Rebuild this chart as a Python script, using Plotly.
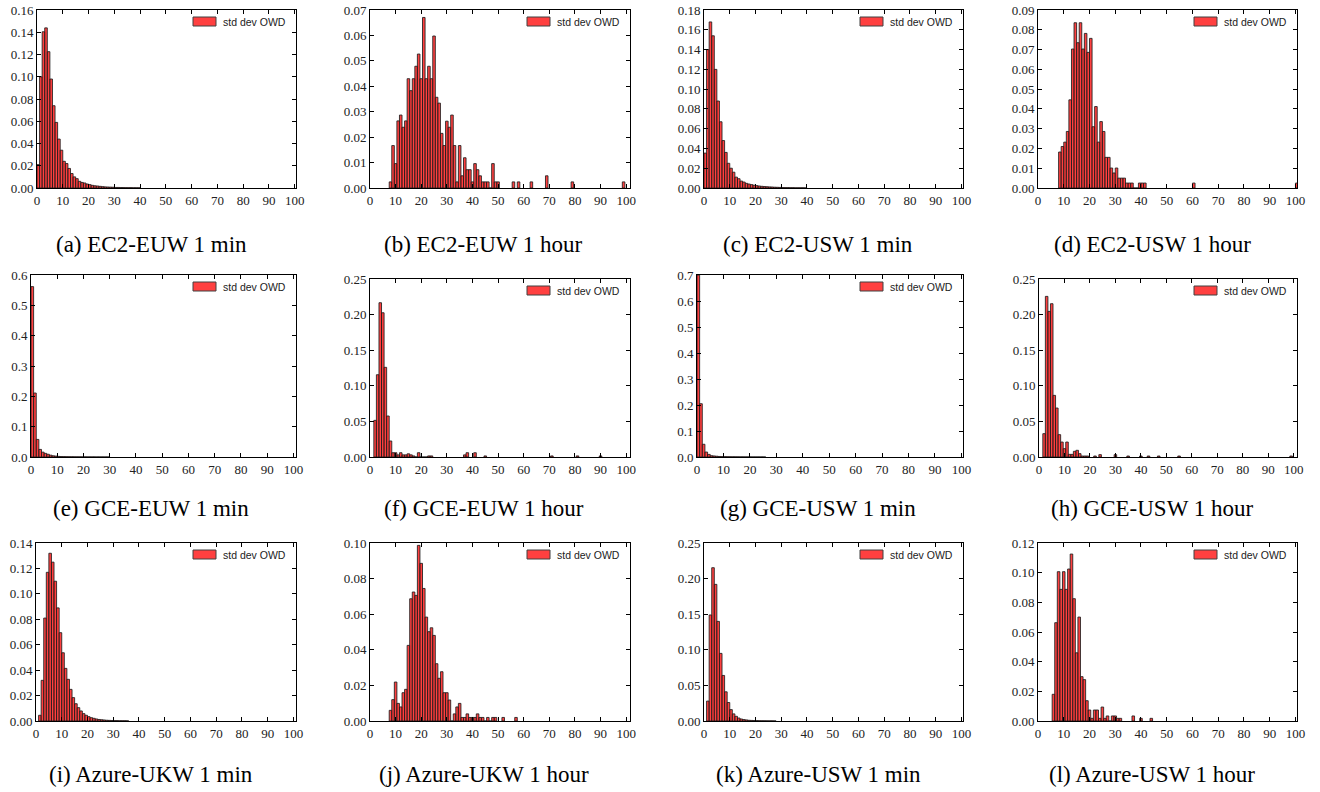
import plotly.graph_objects as go

# ---------------- data: relative frequency per 1-unit bin ----------------
# each panel: first bar centre, contiguous frequencies, then isolated bars
# (a) EC2-EUW 1 min
start_a = 0.5
freq_a = [0.021, 0.100, 0.1405, 0.144, 0.1226, 0.098, 0.074, 0.059, 0.044, 0.034,
          0.024, 0.022, 0.0176, 0.013, 0.010, 0.0084, 0.006, 0.005, 0.0045, 0.0036,
          0.003, 0.0024, 0.002, 0.0018, 0.0015, 0.0012, 0.0010, 0.0009, 0.0008, 0.0007,
          0.0005, 0.0005, 0.0004, 0.0004, 0.0003, 0.0003, 0.0003, 0.0002, 0.0002, 0.0002]
extra_x_a = []
extra_y_a = []

# (b) EC2-EUW 1 hour
start_b = 8
freq_b = [0.0024, 0.0167, 0.0096, 0.0264, 0.0287, 0.0239, 0.0264, 0.0430, 0.0383, 0.0430,
          0.0479, 0.0527, 0.0430, 0.0671, 0.0430, 0.0479, 0.0430, 0.0598, 0.0357, 0.0334,
          0.0215, 0.0167, 0.0263, 0.0239, 0.0287, 0.0167, 0.0024, 0.0167, 0.0048, 0.0119,
          0.0072, 0.0072, 0.0024, 0.0096, 0.0072, 0.0048, 0.0024, 0.0024, 0.0024, 0.0,
          0.0096, 0.0024, 0.0024]
extra_x_b = [56, 58, 63, 69, 79, 99]
extra_y_b = [0.0024, 0.0024, 0.0024, 0.0048, 0.0024, 0.0024]

# (c) EC2-USW 1 min
start_c = 0.5
freq_c = [0.0353, 0.140, 0.168, 0.154, 0.120, 0.088, 0.067, 0.048, 0.036, 0.025,
          0.020, 0.016, 0.011, 0.0094, 0.007, 0.006, 0.0047, 0.004, 0.0034, 0.0028,
          0.0024, 0.002, 0.0017, 0.0015, 0.0013, 0.0011, 0.001, 0.0008, 0.0007, 0.0006,
          0.0005, 0.0004, 0.0004, 0.0003, 0.0003, 0.0002, 0.0002, 0.0002, 0.0002, 0.0001]
extra_x_c = []
extra_y_c = []

# (d) EC2-USW 1 hour
start_d = 8.5
freq_d = [0.0182, 0.021, 0.0232, 0.0286, 0.0446, 0.0703, 0.0836, 0.0735, 0.0836, 0.0703,
          0.0782, 0.0686, 0.0757, 0.031, 0.0412, 0.0232, 0.0336, 0.0286, 0.0155, 0.0155,
          0.0101, 0.0076, 0.0101, 0.005, 0.005, 0.005, 0.0025, 0.0025, 0.0025, 0.0,
          0.0, 0.0025, 0.0025, 0.0025]
extra_x_d = [60.5, 100.5]
extra_y_d = [0.0025, 0.0025]

# (e) GCE-EUW 1 min
start_e = 0.5
freq_e = [0.562, 0.211, 0.058, 0.025, 0.016, 0.012, 0.009, 0.006, 0.004, 0.003,
          0.002, 0.0015, 0.0012, 0.001, 0.0008, 0.0007, 0.0006, 0.0005, 0.0005, 0.0004,
          0.0004, 0.0003, 0.0003, 0.0003, 0.0002, 0.0002, 0.0002, 0.0002, 0.0002, 0.0001]
extra_x_e = []
extra_y_e = []

# (f) GCE-EUW 1 hour
start_f = 2
freq_f = [0.0515, 0.1156, 0.2168, 0.2027, 0.126, 0.0576, 0.0225, 0.006, 0.006, 0.003,
          0.006, 0.003, 0.003, 0.0045, 0.003, 0.0015, 0.0, 0.006, 0.0, 0.0,
          0.0, 0.0015, 0.0015]
extra_x_f = [37, 38, 41, 45, 71, 81, 90]
extra_y_f = [0.003, 0.006, 0.006, 0.0015, 0.0015, 0.0015, 0.0015]

# (g) GCE-USW 1 min
start_g = 0.5
freq_g = [0.70, 0.205, 0.049, 0.019, 0.010, 0.005, 0.004, 0.003, 0.002, 0.0015,
          0.0012, 0.001, 0.0008, 0.0007, 0.0006, 0.0005, 0.0004, 0.0004, 0.0003, 0.0003,
          0.0003, 0.0002, 0.0002, 0.0002, 0.0002, 0.0001]
extra_x_g = []
extra_y_g = []

# (h) GCE-USW 1 hour
start_h = 2
freq_h = [0.0328, 0.2257, 0.2046, 0.2154, 0.0866, 0.0688, 0.0314, 0.021, 0.0117, 0.021,
          0.0037, 0.0037, 0.008, 0.0094, 0.0047, 0.0014, 0.0014, 0.0014]
extra_x_h = [22, 24, 30, 35, 40, 43, 47, 55, 99]
extra_y_h = [0.0014, 0.0033, 0.0033, 0.0014, 0.0014, 0.0014, 0.0014, 0.0014, 0.0014]

# (i) Azure-UKW 1 min
start_i = 1.5
freq_i = [0.0045, 0.032, 0.081, 0.117, 0.132, 0.125, 0.110, 0.089, 0.0695, 0.0537,
          0.0414, 0.0328, 0.0249, 0.0184, 0.0136, 0.0105, 0.0079, 0.0058, 0.0045, 0.0034,
          0.0026, 0.0021, 0.0016, 0.0012, 0.001, 0.0008, 0.0006, 0.0005, 0.0004, 0.0003,
          0.0003, 0.0002, 0.0002, 0.0002, 0.0001]
extra_x_i = []
extra_y_i = []

# (j) Azure-UKW 1 hour
start_j = 8
freq_j = [0.006, 0.012, 0.0219, 0.0099, 0.0079, 0.0159, 0.0178, 0.0425, 0.0687, 0.0725,
          0.0706, 0.0987, 0.0886, 0.0745, 0.0584, 0.0502, 0.0524, 0.0481, 0.0322, 0.024,
          0.0277, 0.0159, 0.0159, 0.0118, 0.0, 0.004, 0.0079, 0.0099, 0.002, 0.002,
          0.004, 0.002, 0.002, 0.002, 0.004, 0.002, 0.002, 0.0, 0.002, 0.0,
          0.002, 0.002]
extra_x_j = [52, 57]
extra_y_j = [0.002, 0.002]

# (k) Azure-USW 1 min
start_k = 1.5
freq_k = [0.028, 0.149, 0.2154, 0.192, 0.140, 0.095, 0.064, 0.041, 0.026, 0.016,
          0.010, 0.0066, 0.0042, 0.0028, 0.002, 0.0015, 0.001, 0.0008, 0.0006, 0.0005,
          0.0004, 0.0003, 0.0003, 0.0002, 0.0002, 0.0002, 0.0001]
extra_x_k = []
extra_y_k = []

# (l) Azure-USW 1 hour
start_l = 6
freq_l = [0.018, 0.0663, 0.1007, 0.0888, 0.1007, 0.0888, 0.1025, 0.1126, 0.0825, 0.046,
          0.0701, 0.0299, 0.0279, 0.0137, 0.0074, 0.0018, 0.0074, 0.0074, 0.0018, 0.0094,
          0.0018, 0.0034, 0.0, 0.0034, 0.0034, 0.0018, 0.0018]
extra_x_l = [37, 40, 44]
extra_y_l = [0.0034, 0.0018, 0.0018]

captions = ["(a) EC2-EUW 1 min", "(b) EC2-EUW 1 hour", "(c) EC2-USW 1 min", "(d) EC2-USW 1 hour",
            "(e) GCE-EUW 1 min", "(f) GCE-EUW 1 hour", "(g) GCE-USW 1 min", "(h) GCE-USW 1 hour",
            "(i) Azure-UKW 1 min", "(j) Azure-UKW 1 hour", "(k) Azure-USW 1 min", "(l) Azure-USW 1 hour"]
legend_label = "std dev OWD"
x_ticks = [0, 10, 20, 30, 40, 50, 60, 70, 80, 90, 100]

y_max = [0.16, 0.07, 0.18, 0.09, 0.6, 0.25, 0.7, 0.25, 0.14, 0.10, 0.25, 0.12]
y_step = [0.02, 0.01, 0.02, 0.01, 0.1, 0.05, 0.1, 0.05, 0.02, 0.02, 0.05, 0.02]
y_fmt = [".2f", ".2f", ".2f", ".2f", ".1f", ".2f", ".1f", ".2f", ".2f", ".2f", ".2f", ".2f"]
x_max = [100.5, 101.5, 100.6, 100.6, 101, 101.5, 100.6, 101.3, 101, 101.5, 100.6, 100.6]

panels = [
    (start_a, freq_a, extra_x_a, extra_y_a), (start_b, freq_b, extra_x_b, extra_y_b),
    (start_c, freq_c, extra_x_c, extra_y_c), (start_d, freq_d, extra_x_d, extra_y_d),
    (start_e, freq_e, extra_x_e, extra_y_e), (start_f, freq_f, extra_x_f, extra_y_f),
    (start_g, freq_g, extra_x_g, extra_y_g), (start_h, freq_h, extra_x_h, extra_y_h),
    (start_i, freq_i, extra_x_i, extra_y_i), (start_j, freq_j, extra_x_j, extra_y_j),
    (start_k, freq_k, extra_x_k, extra_y_k), (start_l, freq_l, extra_x_l, extra_y_l),
]

# ---------------- layout geometry (pixels) ----------------
W, H = 1320, 792
boxes = [  # x0, x1, top, bottom
    (37, 296, 10, 188), (370, 630, 10, 188), (704, 963, 10, 188), (1038, 1297, 10, 188),
    (31, 296, 275, 457), (370, 630, 279, 457), (697, 963, 275, 457), (1039, 1297, 279, 457),
    (36, 296, 543, 721), (370, 630, 543, 721), (704, 963, 543, 721), (1038, 1297, 543, 721),
]
cap_x = [151, 484, 818, 1152]
cap_y = [244, 508, 774]

BAR_FILL = "rgba(255,0,0,0.75)"
BAR_EDGE = "rgba(30,30,30,0.85)"
SERIF = "Liberation Serif, Times New Roman, serif"
SANS = "Liberation Sans, Arial, sans-serif"

fig = go.Figure()
layout = dict(template="none", width=W, height=H, margin=dict(l=0, r=0, t=0, b=0, pad=0),
              paper_bgcolor="white", plot_bgcolor="white", showlegend=False,
              bargap=0)
shapes, annotations = [], []

for n, (start, freq, ex_x, ex_y) in enumerate(panels):
    idx = "" if n == 0 else str(n + 1)
    xs = [start + k for k in range(len(freq))] + list(ex_x)
    ys = list(freq) + list(ex_y)
    fig.add_trace(go.Bar(
        x=xs, y=ys, width=1, name=legend_label,
        xaxis="x" + idx, yaxis="y" + idx,
        marker=dict(color=BAR_FILL, line=dict(color=BAR_EDGE, width=1)),
    ))
    x0, x1, top, bot = boxes[n]
    nt = int(round(y_max[n] / y_step[n]))
    yt = [round(k * y_step[n], 4) for k in range(nt + 1)]
    common = dict(ticks="inside", ticklen=4, tickwidth=1, tickcolor="black",
                  showline=True, linecolor="black", linewidth=1, mirror="ticks",
                  showgrid=False, zeroline=False, automargin=False,
                  tickfont=dict(family=SERIF, size=13, color="#222"))
    layout["xaxis" + idx] = dict(
        domain=[x0 / W, x1 / W], anchor="y" + idx, range=[0, x_max[n]],
        tickvals=x_ticks, **common)
    layout["yaxis" + idx] = dict(
        domain=[1 - bot / H, 1 - top / H], anchor="x" + idx,
        range=[0, y_max[n] * 1.0005], tickvals=yt, tickformat=y_fmt[n], **common)
    # legend patch + label (top-right, no frame)
    shapes.append(dict(
        type="rect", xref="x" + idx + " domain", yref="y" + idx + " domain",
        xsizemode="pixel", ysizemode="pixel", xanchor=1, yanchor=1,
        x0=-103, x1=-80, y0=-7, y1=-16,
        fillcolor=BAR_FILL, line=dict(color="#404040", width=1),
    ))
    annotations.append(dict(
        text=legend_label, xref="x" + idx + " domain", yref="y" + idx + " domain",
        x=1, y=1, xanchor="right", yanchor="middle", xshift=-8, yshift=-11.5,
        showarrow=False, font=dict(family=SANS, size=10.5, color="#222"),
    ))
    # caption
    annotations.append(dict(
        text=captions[n], xref="paper", yref="paper",
        x=cap_x[n % 4] / W, y=1 - cap_y[n // 4] / H,
        xanchor="center", yanchor="middle", showarrow=False,
        font=dict(family=SERIF, size=23, color="black"),
    ))

layout["shapes"] = shapes
layout["annotations"] = annotations
fig.update_layout(**layout)
fig.write_html(
    "out.html",
    config={"displayModeBar": False, "staticPlot": True},
    post_script="document.body.style.margin='0';document.body.style.overflow='hidden';",
)
